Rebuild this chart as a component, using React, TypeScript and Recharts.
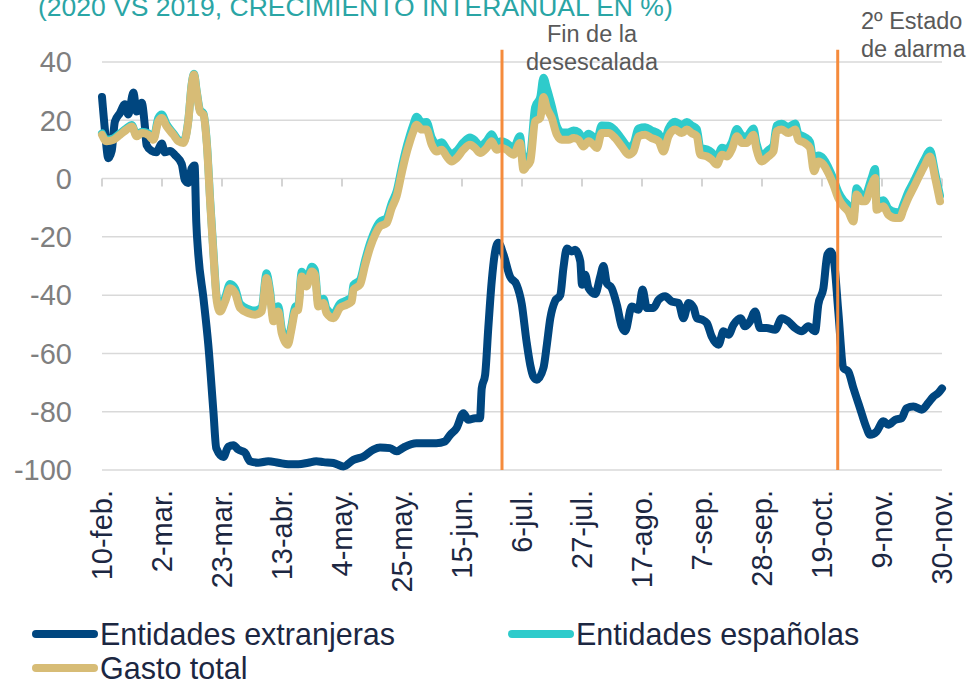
import React from 'react';
import { LineChart, Line, XAxis, YAxis, CartesianGrid, ReferenceLine } from 'recharts';

// días desde el 10-feb
const diasEtiqueta = [0, 21, 42, 63, 84, 105, 126, 147, 168, 189, 210, 231, 252, 273, 294];
const etiquetas = ['10-feb.', '2-mar.', '23-mar.', '13-abr.', '4-may.', '25-may.', '15-jun.', '6-jul.', '27-jul.', '17-ago.', '7-sep.', '28-sep.', '19-oct.', '9-nov.', '30-nov.'];
const valoresEje = [40, 20, 0, -20, -40, -60, -80, -100];
const hitos = [140, 257.5];

const diasExt = [0, 1, 2.2, 3.4, 4.5, 6.3, 8, 9.2, 11, 12.1, 13.9, 15, 15.6, 17.4, 19, 20.9, 22, 23.8, 25.6, 27.9, 29, 30.2, 31.4, 32.4, 33, 33.7, 35.5, 37.2, 39, 40, 42.5, 44.2, 46, 47.7, 50, 51.8, 54.7, 58.2, 61.7, 65.2, 68.7, 72.2, 75, 77.5, 81, 84.5, 88, 91.5, 95, 97.3, 100.8, 103.1, 105.5, 110, 113.6, 117, 120, 121.8, 124.1, 126.5, 128.2, 130.6, 132.3, 132.9, 134.1, 135.2, 136.4, 137.6, 138.7, 140.5, 142.8, 145.1, 146.9, 148.6, 149.9, 151, 152.2, 154.5, 155.7, 156.9, 158.6, 160.4, 161.5, 162.7, 164.4, 165.6, 167.4, 168, 169.1, 170.3, 172.6, 174.4, 175.5, 176.7, 178.4, 180.2, 181.9, 183.1, 185.4, 187.8, 189.2, 190.7, 193, 194.8, 197.1, 199.4, 201.8, 203.5, 205.3, 207.1, 208.2, 210, 211.7, 213.4, 215.8, 217.5, 219.3, 221, 223.5, 225, 226.8, 228.6, 230.3, 232.6, 235.6, 237.9, 240.2, 242.6, 244.9, 247.2, 249.6, 250.7, 252.5, 253.9, 255, 256.2, 257.7, 259.5, 261.2, 263, 265.3, 267.6, 268.8, 271.1, 273.5, 275.2, 277.6, 279.9, 281.6, 284, 286.9, 289.2, 291, 292.7, 294];
const extranjeras = [28, 17, 7, 9.5, 19.5, 22.5, 25.5, 22, 29.5, 23, 26, 18, 11.5, 9.5, 9, 12, 9, 9.5, 8, 5, -0.5, -1.5, 3.5, 4.5, -15, -26, -41, -57, -80, -92.5, -95.5, -92, -91.5, -93, -94, -97, -97.5, -97, -97.5, -98, -98, -97.5, -97, -97.3, -97.6, -98.8, -96.5, -95.4, -93, -92.3, -92.5, -93.6, -92.3, -90.8, -90.8, -90.8, -90.2, -88, -85.6, -80.5, -82.8, -82.2, -82.2, -72, -67.3, -51.3, -35.3, -25, -22, -26, -33.6, -36.4, -43, -56, -64, -68, -69, -65, -57, -48, -42, -40, -30.7, -24, -25, -24.4, -28.4, -36.4, -33, -37.6, -39.6, -33.6, -30, -35.9, -37.6, -43.3, -50.7, -52.4, -43.9, -45, -38.1, -44.4, -44.4, -41.6, -40.4, -42.2, -42.7, -47.9, -42.7, -44.4, -47.9, -48.4, -49.6, -54.2, -57, -52.4, -53.6, -50.2, -47.9, -50.7, -49, -45.6, -51.3, -51.3, -51.9, -47.9, -49, -51.3, -52.4, -50.7, -52.4, -43.3, -37.6, -26.1, -25, -28.4, -45.6, -65, -66.2, -71.9, -78.8, -85.6, -87.9, -86.8, -83.3, -84.5, -82.8, -82.2, -78.8, -78.2, -79.3, -77, -74.8, -73.6, -72];

const diasNac = [0, 1.6, 4, 6.3, 8.6, 10.4, 12.1, 13.9, 16.2, 18, 19.7, 20.9, 22.6, 25, 26.7, 28.5, 30.2, 31.4, 32.2, 33.1, 34.3, 35.5, 36.7, 37.9, 39, 40.2, 41.3, 43.1, 44.8, 46.6, 48.3, 51.3, 53.6, 55.9, 57.6, 58.8, 60, 61.7, 62.9, 65, 66.4, 67.6, 68.7, 69.9, 71.6, 73.4, 74.5, 75.7, 77.5, 78.6, 81, 83.3, 85.6, 87.4, 88, 90.3, 92.1, 93.8, 95.6, 97.3, 99.6, 101.4, 103.1, 104.9, 106.1, 107.8, 109, 110.1, 111.9, 113.6, 115.4, 117.1, 118.9, 120.6, 122.4, 124.1, 126.5, 128.8, 130.6, 132.3, 134.6, 136.4, 138.1, 139.9, 141.6, 144, 146.3, 147.5, 148.6, 149.9, 151.6, 153.4, 154.5, 155.7, 157.4, 159.2, 160.9, 163.3, 165, 166.8, 168.5, 170.3, 172, 173.2, 174.9, 177.3, 179.6, 181.9, 184.3, 186, 187.8, 190.1, 192.4, 194.8, 196.5, 198.3, 200.6, 202.9, 204.7, 206.4, 208.2, 209.4, 211.7, 213.4, 215.2, 217, 218.7, 220.4, 222.2, 224, 225.6, 228, 229.1, 230.9, 233.2, 235, 236.1, 237.9, 240.2, 242.6, 243.7, 246, 247.8, 249.2, 250.7, 252.5, 254.2, 256, 257.7, 259.5, 261.2, 263, 264.1, 265.9, 267.1, 269.4, 270.6, 271.1, 273.5, 275.2, 277.6, 279.3, 280.5, 282.2, 284, 286.3, 288.1, 289.8, 291.6, 293.3];
const gastoTotal = [15, 12.8, 13.3, 15, 16.8, 17.9, 14.5, 15.6, 15, 13.3, 19.6, 20.8, 17.9, 15, 12.8, 12.2, 19.6, 32.2, 35.7, 29.9, 23, 21.9, 11.6, -9, -26.1, -42.2, -45.6, -42.2, -37.6, -39.3, -44.4, -46.2, -46.7, -45.6, -34.1, -39.9, -49, -45.6, -53, -57, -51.3, -45.6, -45, -33.6, -37, -31.9, -33, -43.9, -42.7, -46.2, -47.9, -44.4, -43.3, -42.2, -38.1, -36.4, -29.6, -23.8, -19.3, -16.4, -15.3, -10.1, -6.1, 1.9, 7, 12.8, 16.2, 18.5, 16.8, 16.8, 11.6, 9.3, 9.9, 7.6, 5.9, 7, 9.9, 11.6, 10.5, 8.8, 10.5, 12.8, 9.9, 10.5, 9.9, 8.2, 12.2, 3, 4.2, 5.9, 19.6, 20.8, 28, 24.2, 20.8, 15, 13.3, 13.3, 13.9, 13.3, 11, 12.8, 11.6, 10.5, 15.6, 15.6, 13.9, 11, 8.2, 9.3, 14.5, 15, 13.9, 12.8, 9.3, 14.5, 16.8, 15.6, 16.8, 15.6, 14.5, 8.2, 7.6, 6.5, 4.8, 8.2, 7.6, 9.9, 14.5, 12.2, 12.2, 15, 9.9, 5.9, 7.6, 9.3, 16.2, 16.8, 15.6, 16.8, 13.3, 12.2, 10.5, 2.5, 5.9, 4.8, 1.9, -2.1, -6.7, -9.5, -11.3, -14.7, -5.5, -7.8, -7.8, -2.1, 0.2, -10.7, -9.5, -12.4, -13.5, -13.5, -10.7, -6.7, -3.2, 1.4, 4.8, 7.6, 0.2, -7.8];
const espanolas = [15.5, 13.3, 13.8, 15.5, 17.3, 18.4, 15, 16.1, 15.5, 13.8, 20.8, 22, 18.6, 15.5, 13.3, 12.7, 20, 32.5, 36, 30.3, 23.5, 22.4, 12.3, -8, -25, -41, -44.2, -40.8, -36.2, -37.8, -43, -44.8, -45.3, -44.2, -32.5, -38.4, -47.5, -43.8, -51.5, -55.8, -50, -44, -43.4, -32, -35.4, -30.3, -31.4, -42.3, -41.2, -44.7, -46.4, -42.9, -41.8, -40.6, -36.5, -34.8, -28, -22.2, -17.6, -14.8, -13.6, -8.4, -4.4, 3.8, 9, 15, 18.6, 21.2, 19.3, 19.4, 14, 11.8, 12.5, 10.1, 8.4, 9.5, 12.4, 14.1, 13, 11.2, 12.9, 15.2, 12.3, 12.8, 12.2, 10.5, 14.5, 5.3, 6.6, 8.6, 24.5, 28, 34.6, 31, 25, 18, 15.9, 15.8, 16.5, 15.9, 13.6, 15.4, 14.2, 13, 18.2, 18.1, 16.5, 13.6, 10.8, 11.9, 17.2, 17.6, 16.5, 15.4, 11.9, 17.1, 19.5, 18.3, 19.4, 18.2, 17, 10.6, 10, 9, 7.3, 10.6, 10.1, 12.4, 17, 14.7, 14.4, 17.2, 12, 8, 9.7, 11.4, 18.2, 18.8, 17.7, 18.9, 15.4, 14.2, 12.6, 4.5, 7.9, 6.8, 3.9, -0.1, -4.6, -7.5, -9.3, -12.7, -3.3, -5.7, -5.6, 0.3, 3.3, -8.3, -7.4, -10.3, -11.5, -11.6, -8.8, -4.6, -1.2, 3.5, 7, 9.6, 2, -5.8];

const AZUL = '#00467f';
const TURQUESA = '#2ecbcb';
const ARENA = '#d7bc76';
const NARANJA = '#f58b3c';
const TEXTO = '#1c2742';
const FUENTE = '"Liberation Sans", Arial, sans-serif';

const serieExt = diasExt.map((d, i) => ({ dia: d, valor: extranjeras[i] }));
const serieEsp = diasNac.map((d, i) => ({ dia: d, valor: espanolas[i] }));
const serieGasto = diasNac.map((d, i) => ({ dia: d, valor: gastoTotal[i] }));

const TickFecha = ({ x, y, payload }: any) => {
  const idx = diasEtiqueta.indexOf(payload.value);
  return (
    <text x={x} y={y} transform={`rotate(-90, ${x}, ${y})`} textAnchor="end" dominantBaseline="central"
      fill={TEXTO} fontSize={29} fontFamily={FUENTE}>
      {etiquetas[idx]}
    </text>
  );
};

const legendItems = [
  { nombre: 'Entidades extranjeras', color: AZUL, left: 32, top: 618 },
  { nombre: 'Entidades españolas', color: TURQUESA, left: 508, top: 618 },
  { nombre: 'Gasto total', color: ARENA, left: 32, top: 652 },
];

export default function App() {
  return (
    <div style={{ position: 'absolute', left: 0, top: 0, width: 969, height: 684, overflow: 'hidden', background: '#fff', fontFamily: FUENTE }}>
      <div style={{ position: 'absolute', left: 38, top: -6, fontSize: 26.5, lineHeight: '27px', color: '#2aa5a5', whiteSpace: 'nowrap' }}>
        (2020 VS 2019, CRECIMIENTO INTERANUAL EN %)
      </div>
      <LineChart width={969} height={600} margin={{ top: 62, right: 27, bottom: 0, left: 0 }}>
        <CartesianGrid vertical={false} stroke="#d9d9d9" strokeWidth={1.5} />
        <XAxis type="number" dataKey="dia" domain={[0, 294]} ticks={diasEtiqueta} interval={0}
          axisLine={false} tickLine={false} tickSize={0} tickMargin={20} height={130} tick={<TickFecha />} />
        <YAxis type="number" domain={[-100, 40]} ticks={valoresEje} interval={0} width={102}
          axisLine={false} tickLine={false} tickSize={0} tickMargin={30}
          tick={{ fill: '#7f7f7f', fontSize: 29, fontFamily: FUENTE }} />
        {diasEtiqueta.map((d) => (
          <ReferenceLine key={'t' + d} segment={[{ x: d, y: 0 }, { x: d, y: -2.75 }]} stroke="#d4d4d4" strokeWidth={2} />
        ))}
        <Line data={serieExt} dataKey="valor" type="monotone" stroke={AZUL} strokeWidth={8} dot={false}
          activeDot={false} isAnimationActive={false} strokeLinejoin="round" strokeLinecap="round" />
        <Line data={serieEsp} dataKey="valor" type="monotone" stroke={TURQUESA} strokeWidth={8} dot={false}
          activeDot={false} isAnimationActive={false} strokeLinejoin="round" strokeLinecap="round" />
        <Line data={serieGasto} dataKey="valor" type="monotone" stroke={ARENA} strokeWidth={8} dot={false}
          activeDot={false} isAnimationActive={false} strokeLinejoin="round" strokeLinecap="round" />
        {hitos.map((h) => (
          <ReferenceLine key={'h' + h} segment={[{ x: h, y: -100 }, { x: h, y: 44.2 }]} ifOverflow="visible"
            stroke={NARANJA} strokeWidth={3} />
        ))}
      </LineChart>
      <div style={{ position: 'absolute', left: 542, top: 20, width: 100, textAlign: 'center', fontSize: 23.5, lineHeight: '28px', color: '#595959', whiteSpace: 'nowrap', display: 'flex', flexDirection: 'column', alignItems: 'center' }}>
        <span>Fin de la</span>
        <span>desescalada</span>
      </div>
      <div style={{ position: 'absolute', left: 861, top: 7, fontSize: 23.5, lineHeight: '28px', color: '#595959', whiteSpace: 'nowrap' }}>
        <div>2º Estado</div>
        <div>de alarma</div>
      </div>
      {legendItems.map((it) => (
        <div key={it.nombre} style={{ position: 'absolute', left: it.left, top: it.top, display: 'flex', alignItems: 'center', height: 32 }}>
          <div style={{ width: 66, height: 8, borderRadius: 4, background: it.color }} />
          <span style={{ fontSize: 30.5, lineHeight: '32px', color: TEXTO, marginLeft: 2, whiteSpace: 'nowrap' }}>{it.nombre}</span>
        </div>
      ))}
    </div>
  );
}
